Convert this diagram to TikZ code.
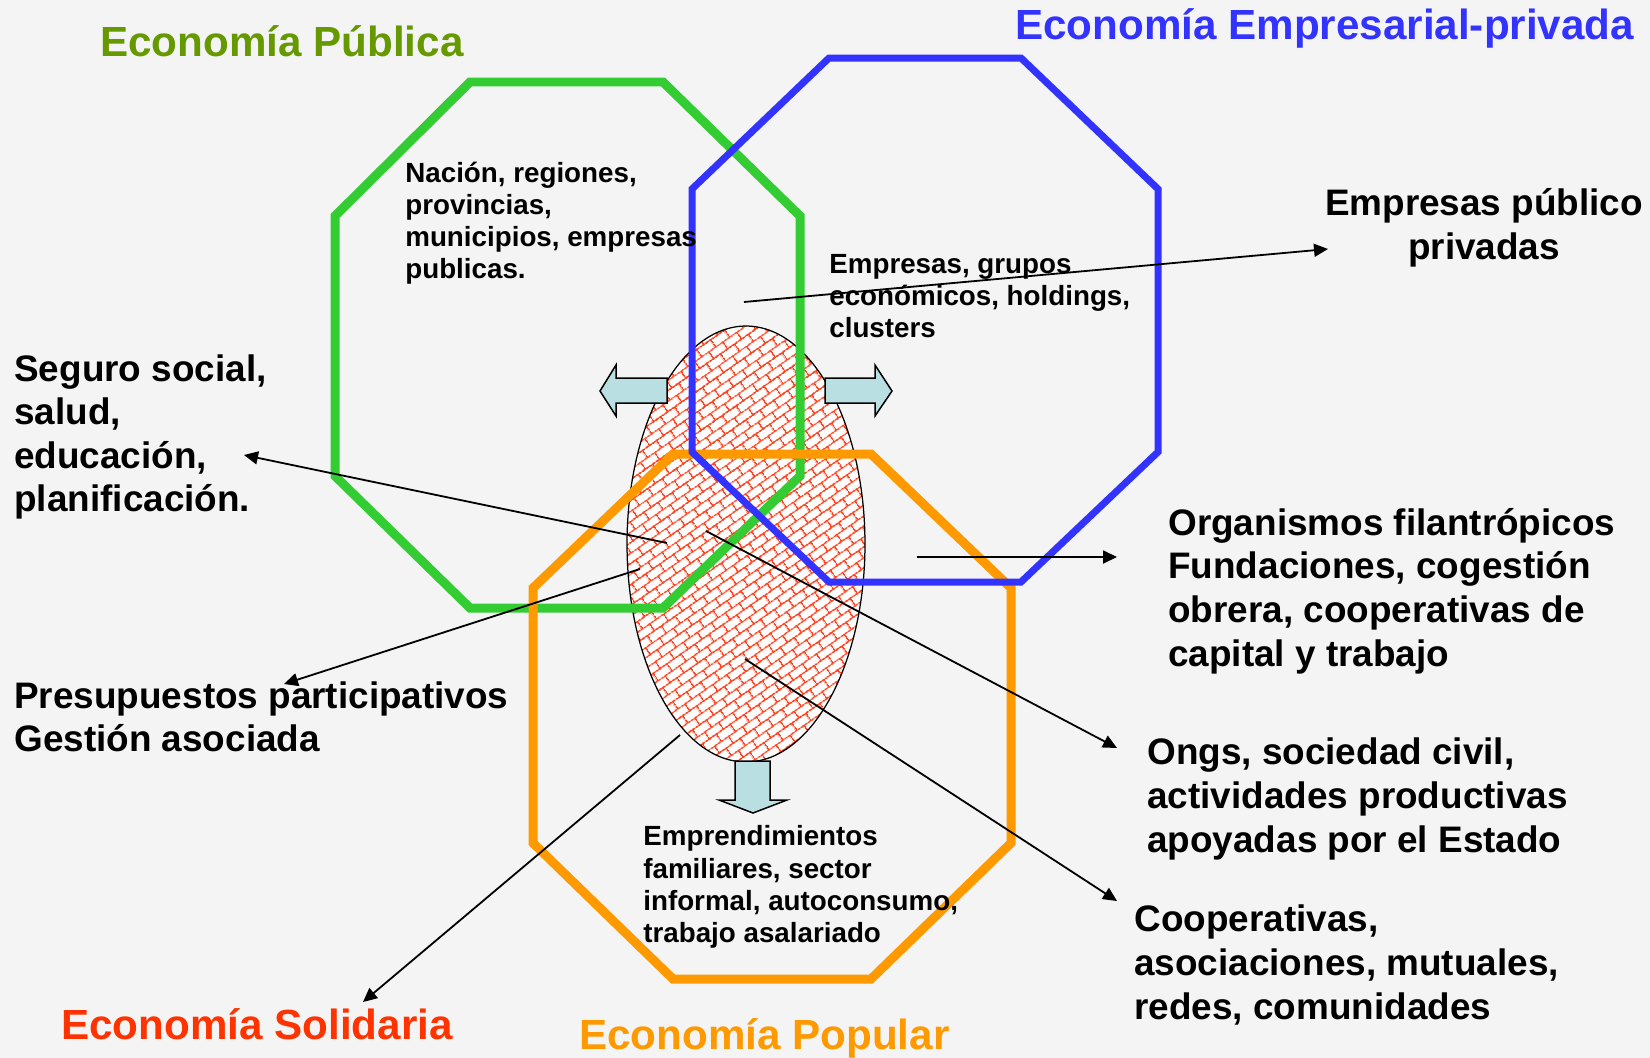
\documentclass[tikz,border=0pt]{standalone}
\usepackage{fontspec}
\setmainfont{Liberation Sans}
\usetikzlibrary{arrows.meta, positioning, patterns.meta, shapes.geometric}
\usepackage{xcolor}

\definecolor{bgcol}{HTML}{F4F4F4}
\definecolor{publine}{HTML}{33CC33}
\definecolor{pubtxt}{HTML}{669900}
\definecolor{privline}{HTML}{3333FF}
\definecolor{solred}{HTML}{FF3300}
\definecolor{popline}{HTML}{FF9900}
\definecolor{arrowblue}{HTML}{B9DFE2}
\definecolor{brickred}{HTML}{FF4422}

% diagonal bricks for the core
\pgfdeclarepattern{
  name=bricks,
  type=uncolored,
  bottom left={\pgfpoint{0pt}{0pt}},
  top right={\pgfpoint{9.6pt}{9.6pt}},
  tile size={\pgfpoint{9.6pt}{9.6pt}},
  tile transformation={\pgftransformrotate{35}},
  code={
    \pgfsetlinewidth{0.9pt}
    \pgfpathmoveto{\pgfpoint{0pt}{2.4pt}}\pgfpathlineto{\pgfpoint{9.6pt}{2.4pt}}
    \pgfpathmoveto{\pgfpoint{0pt}{7.2pt}}\pgfpathlineto{\pgfpoint{9.6pt}{7.2pt}}
    \pgfpathmoveto{\pgfpoint{2.4pt}{2.4pt}}\pgfpathlineto{\pgfpoint{2.4pt}{7.2pt}}
    \pgfpathmoveto{\pgfpoint{7.2pt}{7.2pt}}\pgfpathlineto{\pgfpoint{7.2pt}{9.6pt}}
    \pgfpathmoveto{\pgfpoint{7.2pt}{0pt}}\pgfpathlineto{\pgfpoint{7.2pt}{2.4pt}}
    \pgfusepath{stroke}
  }
}

\begin{document}
\begin{tikzpicture}[
    x=0.02cm, y=-0.02cm,
    title/.style={inner sep=0, anchor=west, font=\bfseries\fontsize{24}{28}\selectfont},
    bigtxt/.style={inner sep=0, anchor=west, align=left, font=\bfseries\fontsize{21}{24.8}\selectfont},
    smalltxt/.style={inner sep=0, anchor=west, align=left, font=\bfseries\fontsize{15.8}{18.3}\selectfont},
    ring/.style={line width=0.18cm, line join=miter},
    core/.style={ellipse, draw, line width=0.025cm, minimum width=4.76cm, minimum height=8.72cm,
      inner sep=0, preaction={fill=white}, pattern=bricks, pattern color=brickred},
    blockarrow/.style={draw=black, line width=0.03cm, fill=arrowblue, line join=miter},
    link/.style={-{Triangle[length=0.28cm, width=0.26cm]}, line width=0.036cm}
  ]

\useasboundingbox (0,0) rectangle (1650,1058);
\fill[bgcol] (0,0) rectangle (1650,1058);

% Core and its arrows
\node[core] (core) at (746,544) {};
\draw[blockarrow] (667,378) -- (616,378) -- (616,365) -- (600,391) -- (616,416) -- (616,403) -- (667,403) -- cycle;
\draw[blockarrow] (825,378) -- (875,378) -- (875,365) -- (892,391) -- (875,416) -- (875,403) -- (825,403) -- cycle;
\draw[blockarrow] (735,761) -- (770,761) -- (770,800) -- (787,800) -- (753,813) -- (719,800) -- (735,800) -- cycle;

% Octagons
\draw[ring, publine] (470,82) -- (663,82) -- (800,216) -- (800,476) -- (663,608) -- (470,608) -- (335,476) -- (335,216) -- cycle;
\draw[ring, popline] (673,454) -- (871,454) -- (1011,588) -- (1011,843) -- (871,979) -- (673,979) -- (533,843) -- (533,588) -- cycle;
\draw[ring, privline, line width=0.14cm] (829,58) -- (1021,58) -- (1158,189) -- (1158,452) -- (1021,582) -- (829,582) -- (692,452) -- (692,189) -- cycle;

% Titles
\node[title, pubtxt] (pubT) at (100,41) {Economía Pública};
\node[title, privline] (privT) at (1015,28) {Economía Empresarial-privada};
\node[title, solred] (solT) at (61,1024) {Economía Solidaria};
\node[title, popline] (popT) at (579,1038) {Economía Popular};

% Texts
\node[smalltxt] (publicas) at (405,223) {Nación, regiones,\\provincias,\\municipios, empresas\\publicas.};
\node[smalltxt] (empresas) at (829,296) {Empresas, grupos\\económicos, holdings,\\clusters};
\node[smalltxt] (empren) at (643,887) {Emprendimientos\\familiares, sector\\informal, autoconsumo,\\trabajo asalariado};
\node[bigtxt] (seguro) at (14,437) {Seguro social,\\salud,\\educación,\\planificación.};
\node[bigtxt] (presup) at (14,717) {Presupuestos participativos\\Gestión asociada};
\node[bigtxt, anchor=center, align=center] (pubpriv) at (1484,228) {Empresas público\\privadas};
\node[bigtxt] (organismos) at (1168,591) {Organismos filantrópicos\\Fundaciones, cogestión\\obrera, cooperativas de\\capital y trabajo};
\node[bigtxt] (ongs) at (1147,799) {Ongs, sociedad civil,\\actividades productivas\\apoyadas por el Estado};
\node[bigtxt] (coops) at (1134,965) {Cooperativas,\\asociaciones, mutuales,\\redes, comunidades};

% Arrow ends
\coordinate (aPP) at (744,302);   \coordinate (tPP) at (1328,249);
\coordinate (aSeg) at (667,543);  \coordinate (tSeg) at (244,455);
\coordinate (aPres) at (640,569); \coordinate (tPres) at (284,684);
\coordinate (aOngs) at (706,531); \coordinate (tOngs) at (1117,748);
\coordinate (aCoop) at (745,659); \coordinate (tCoop) at (1117,901);
\coordinate (aSol) at (680,735);  \coordinate (tSol) at (363,1002);
\coordinate (aOrg) at (917,557);  \coordinate (tOrg) at (1117,557);

% Arrows
\draw[link] (aPP) -- (tPP);
\draw[link] (aSeg) -- (tSeg);
\draw[link] (aPres) -- (tPres);
\draw[link] (aOngs) -- (tOngs);
\draw[link] (aCoop) -- (tCoop);
\draw[link] (aSol) -- (tSol);
\draw[link] (aOrg) -- (tOrg);

\end{tikzpicture}
\end{document}
